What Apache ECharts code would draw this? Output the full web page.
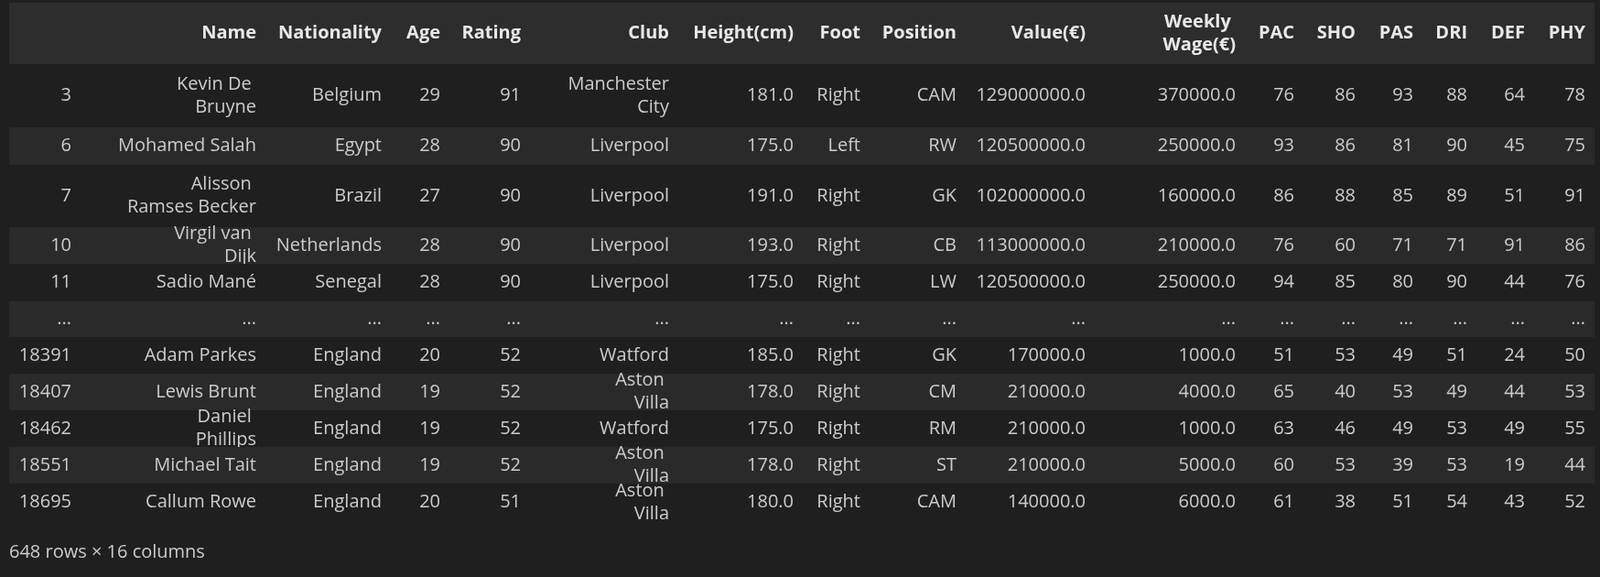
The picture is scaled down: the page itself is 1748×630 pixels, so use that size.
<!DOCTYPE html>
<html><head><meta charset="utf-8">
<script src="https://cdn.jsdelivr.net/npm/echarts@6/dist/echarts.min.js"></script>
<style>html,body{margin:0;background:#1f1f1f}#c{width:1748px;height:630px}</style>
</head><body><div id="c"></div>
<script>
var columns = ['', 'Name', 'Nationality', 'Age', 'Rating', 'Club', 'Height(cm)', 'Foot', 'Position', 'Value(€)', 'Weekly Wage(€)', 'PAC', 'SHO', 'PAS', 'DRI', 'DEF', 'PHY'];
var rows = [
  ['3', 'Kevin De Bruyne', 'Belgium', '29', '91', 'Manchester City', '181.0', 'Right', 'CAM', '129000000.0', '370000.0', '76', '86', '93', '88', '64', '78'],
  ['6', 'Mohamed Salah', 'Egypt', '28', '90', 'Liverpool', '175.0', 'Left', 'RW', '120500000.0', '250000.0', '93', '86', '81', '90', '45', '75'],
  ['7', 'Alisson Ramses Becker', 'Brazil', '27', '90', 'Liverpool', '191.0', 'Right', 'GK', '102000000.0', '160000.0', '86', '88', '85', '89', '51', '91'],
  ['10', 'Virgil van Dijk', 'Netherlands', '28', '90', 'Liverpool', '193.0', 'Right', 'CB', '113000000.0', '210000.0', '76', '60', '71', '71', '91', '86'],
  ['11', 'Sadio Mané', 'Senegal', '28', '90', 'Liverpool', '175.0', 'Right', 'LW', '120500000.0', '250000.0', '94', '85', '80', '90', '44', '76'],
  ['...', '...', '...', '...', '...', '...', '...', '...', '...', '...', '...', '...', '...', '...', '...', '...', '...'],
  ['18391', 'Adam Parkes', 'England', '20', '52', 'Watford', '185.0', 'Right', 'GK', '170000.0', '1000.0', '51', '53', '49', '51', '24', '50'],
  ['18407', 'Lewis Brunt', 'England', '19', '52', 'Aston Villa', '178.0', 'Right', 'CM', '210000.0', '4000.0', '65', '40', '53', '49', '44', '53'],
  ['18462', 'Daniel Phillips', 'England', '19', '52', 'Watford', '175.0', 'Right', 'RM', '210000.0', '1000.0', '63', '46', '49', '53', '49', '55'],
  ['18551', 'Michael Tait', 'England', '19', '52', 'Aston Villa', '178.0', 'Right', 'ST', '210000.0', '5000.0', '60', '53', '39', '53', '19', '44'],
  ['18695', 'Callum Rowe', 'England', '20', '51', 'Aston Villa', '180.0', 'Right', 'CAM', '140000.0', '6000.0', '61', '38', '51', '54', '43', '52']
];
var footer = '648 rows × 16 columns';

// layout
var colRight = [78, 280, 417, 481, 569, 731, 867, 940, 1045, 1186, 1350, 1414, 1481, 1544, 1603, 1666, 1732];
var colWrap = {1: 150, 5: 120, 10: 100};
var rowEdges = [3, 70, 139, 180, 248, 288, 329, 368, 408, 448, 488, 528, 569];
var left = 10, right = 1742;
var font = '"Open Sans", "Noto Sans", sans-serif';

var els = [];
function cell(txt, ci, y0, y1, bold) {
  var w = colWrap[ci] || 200;
  els.push({
    type: 'text', x: colRight[ci], y: (y0 + y1) / 2,
    style: {
      text: txt, fill: bold ? '#e8e8e8' : '#cccccc', font: (bold ? 'bold ' : '') + '20px ' + font,
      align: 'right', verticalAlign: 'middle', width: w, overflow: 'break', lineHeight: 25
    }
  });
}
els.push({type: 'rect', shape: {x: left, y: rowEdges[0], width: right - left, height: rowEdges[1] - rowEdges[0]}, style: {fill: '#2d2d2d'}});
columns.forEach(function (c, ci) { cell(c, ci, rowEdges[0], rowEdges[1], true); });
rows.forEach(function (r, ri) {
  var y0 = rowEdges[ri + 1], y1 = rowEdges[ri + 2];
  els.push({type: 'rect', shape: {x: left, y: y0, width: right - left, height: y1 - y0}, style: {fill: ri % 2 ? '#2a2a2a' : '#1f1f1f'}});
  r.forEach(function (v, ci) { cell(v, ci, y0, y1, false); });
});
els.push({type: 'text', x: 10, y: 603, style: {text: footer, fill: '#cccccc', font: '20px ' + font, verticalAlign: 'middle'}});

var chart = echarts.init(document.getElementById('c'));
chart.setOption({backgroundColor: '#1f1f1f', graphic: {elements: els}});
</script></body></html>
